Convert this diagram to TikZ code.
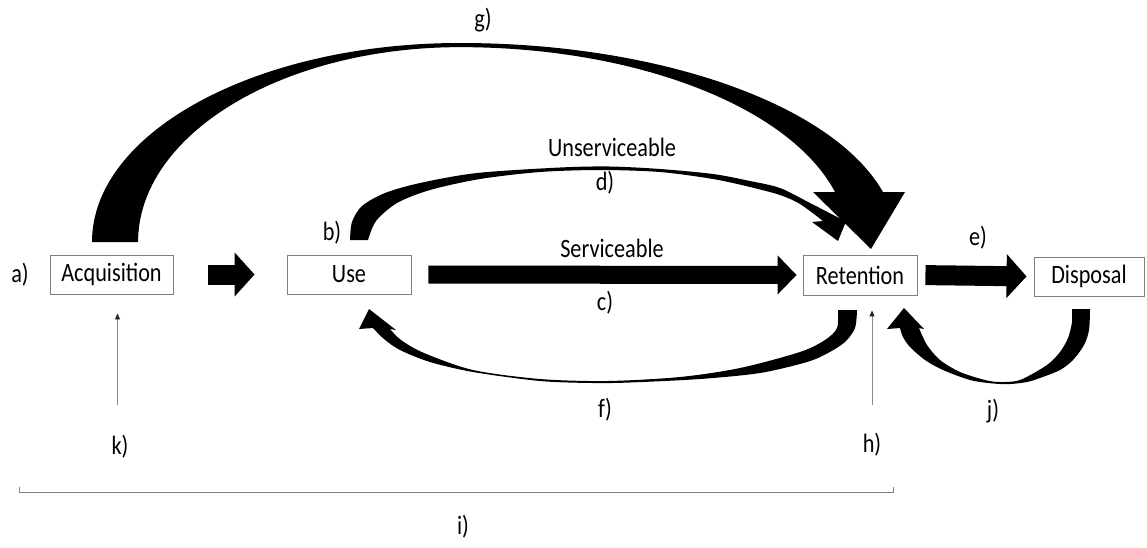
\documentclass[tikz,border=0pt]{standalone}
\usepackage{fontspec}
\setmainfont{Carlito}[FakeStretch=0.84]
\usetikzlibrary{arrows.meta}

\begin{document}
\begin{tikzpicture}[x=1pt,y=-1pt,
  every node/.style={font=\fontsize{26.5}{30}\selectfont},
  box/.style={draw=black!50, line width=0.9pt, inner sep=0pt, minimum height=39pt},
  lbl/.style={inner sep=0pt},
  fat/.style={line width=20pt, -{Triangle[length=20pt,width=43pt]}},
  slim/.style={draw=black!45, line width=0.8pt, -{Triangle[length=6pt,width=5pt,color=black!85]}},
  bracket/.style={draw=black!50, line width=0.9pt}]
\useasboundingbox (0,0) rectangle (1147,547);

% stages
\node[box, minimum width=123pt] (acq) at (111.5,274.5) {Acquisition};
\node[box, minimum width=124pt] (use) at (349,274.5) {Use};
\node[box, minimum width=114pt, minimum height=40pt] (ret) at (860,275) {Retention};
\node[box, minimum width=110pt] (dis) at (1089,276.5) {Disposal};

% straight block arrows
\draw[fat, shorten <=35pt, shorten >=32pt] (acq.east) -- (use.west);
\draw[fat, line width=18pt, -{Triangle[length=19pt,width=38pt]}, shorten <=17pt, shorten >=6pt] (use.east) -- (ret.west);
\draw[fat, shorten <=8pt, shorten >=7pt] (ret.east) -- (dis.west);

% d) unserviceable: use to retention
\fill plot[smooth] coordinates {(350,240) (352,222) (362,206) (385,193) (420,183)
    (477,173) (560,167.5) (610,166.5) (660,169) (713,174) (750,181) (780,188) (810,203) (841,219)}
  -- (847,219) -- (838,241) -- (812,222) -- (823,221)
  -- plot[smooth] coordinates {(823,221) (800,204) (780,195) (750,187) (713,179) (660,172)
    (600,170) (540,172) (480,179) (430,190) (397,203) (376,221) (368,240)}
  -- cycle;

% g) acquisition straight to retention
\fill (92,242) arc[start angle=180, end angle=270, x radius=368, y radius=199]
  arc[start angle=270, end angle=345.5, x radius=437, y radius=199]
  -- (905,192) -- (871,249) -- (813,192) -- (835,192)
  arc[start angle=345.1, end angle=270, x radius=388, y radius=195]
  arc[start angle=270, end angle=180, x radius=322, y radius=195]
  -- cycle;

% f) retention back to use
\fill plot[smooth] coordinates {(857,310) (855,328) (845,342) (828,353) (807,362)
    (760,373) (700,379) (630,382.5) (593,383) (540,381) (473,372) (430,362)
    (400,350) (384,339) (373,328)}
  -- (359,329) -- (369,309) -- (396,330) -- (390,329)
  -- plot[smooth] coordinates {(390,329) (401,340) (424,353) (473,370) (540,379)
    (607,381) (680,377) (740,368) (800,352) (825,340) (837,328) (838,310)}
  -- cycle;

% j) disposal back to retention
\fill plot[smooth] coordinates {(1090,309) (1089,330) (1084,345) (1073,360) (1060,370)
    (1040,378) (1027,382) (1010,384) (993,383.5) (970,380) (943,370) (925,360)
    (910,347) (903,337) (900,328)}
  -- (887,329) -- (904,308) -- (924,329) -- (919,328)
  -- plot[smooth] coordinates {(919,328) (927,345) (940,360) (960,372) (985,380)
    (1000,382) (1020,380) (1047,365) (1060,352) (1068,338) (1072,322) (1072,309)}
  -- cycle;

% external inputs
\coordinate (kfoot) at (117.5,405);
\coordinate (hfoot) at (872,405);
\draw[slim, shorten >=19pt] (kfoot) -- (kfoot |- acq.south);
\draw[slim, shorten >=15pt] (hfoot) -- (hfoot |- ret.south);

% span bracket
\draw[bracket] (19,487) -- (19,492.5) -- (893,492.5) -- (893,487);

% labels
\node[lbl] (la) at (20,275) {a)};
\node[lbl] (lb) at (332,233) {b)};
\node[lbl] (lserv) at (612,248) {Serviceable};
\node[lbl] (lc) at (605,303) {c)};
\node[lbl] (lunserv) at (612,147) {Unserviceable};
\node[lbl] (ld) at (605,183) {d)};
\node[lbl] (lg) at (483,20) {g)};
\node[lbl] (le) at (978,238) {e)};
\node[lbl] (lf) at (605,410) {f)};
\node[lbl] (lj) at (993,411) {j)};
\node[lbl] (lk) at (120,447) {k)};
\node[lbl] (lh) at (872,445) {h)};
\node[lbl] (li) at (463,527) {i)};
\end{tikzpicture}
\end{document}
